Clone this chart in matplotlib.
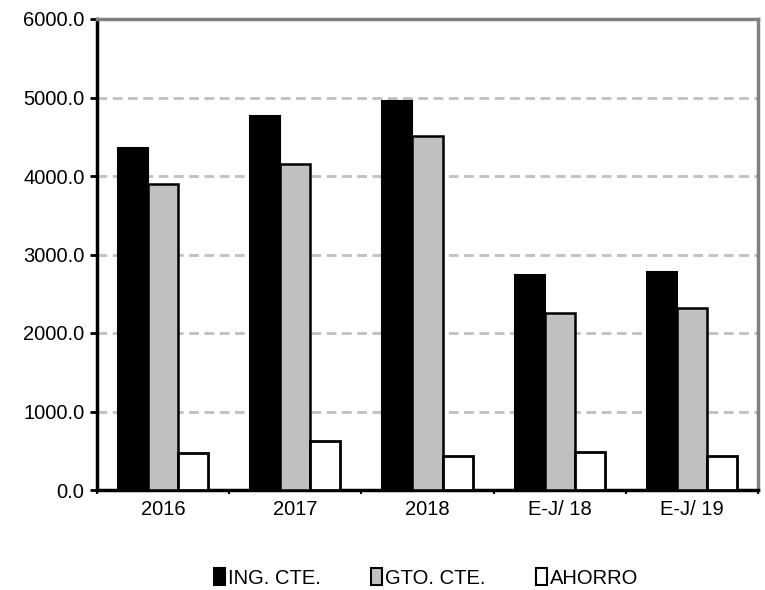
import numpy as np
import matplotlib.pyplot as plt
from matplotlib.patches import Patch

plt.rcParams['font.family'] = ['Liberation Sans', 'DejaVu Sans']

# Datos
categorias = ['2016', '2017', '2018', 'E-J/ 18', 'E-J/ 19']
ing_cte = [4360, 4760, 4960, 2740, 2780]
gto_cte = [3900, 4150, 4510, 2250, 2320]
ahorro = [465, 625, 435, 478, 435]
series = ['ING. CTE.', 'GTO. CTE.', 'AHORRO']
y_ticks = [0, 1000, 2000, 3000, 4000, 5000, 6000]

fig = plt.figure(figsize=(7.65, 5.9), dpi=100)
ax = fig.add_axes([97 / 765, 1 - 490 / 590, 661 / 765, 471 / 590])

x = np.arange(len(categorias))
w = 0.227

ax.bar(x - w, ing_cte, w, color='black', edgecolor='black', linewidth=1.5, zorder=3)
ax.bar(x, gto_cte, w, color='#c0c0c0', edgecolor='black', linewidth=1.8, zorder=3)
ax.bar(x + w, ahorro, w, color='white', edgecolor='black', linewidth=2, zorder=3)

# Eje Y
ax.set_ylim(0, 6000)
ax.set_yticks(y_ticks)
ax.set_yticklabels([f'{v:.1f}' for v in y_ticks], fontsize=14.5)
for v in y_ticks[1:-1]:
    ax.axhline(v, color='#c0c0c0', linewidth=2, dashes=(3.5, 2), zorder=1)

# Eje X
ax.set_xlim(-0.5, len(categorias) - 0.5)
ax.set_xticks(x)
ax.set_xticklabels(categorias, fontsize=14.5)
ax.tick_params(axis='x', length=0, pad=7)
ax.set_xticks(np.arange(len(categorias) + 1) - 0.5, minor=True)
ax.tick_params(axis='x', which='minor', length=3, width=1.5, direction='out')
ax.tick_params(axis='y', length=5, width=2, direction='out', pad=4)

for s in ['left', 'bottom']:
    ax.spines[s].set_color('black')
    ax.spines[s].set_linewidth(2.5)
for s in ['top', 'right']:
    ax.spines[s].set_color('#808080')
    ax.spines[s].set_linewidth(2.5)

legend_elements = [
    Patch(facecolor='black', edgecolor='black', linewidth=1.5, label=series[0]),
    Patch(facecolor='#c0c0c0', edgecolor='black', linewidth=1.5, label=series[1]),
    Patch(facecolor='white', edgecolor='black', linewidth=1.5, label=series[2]),
]
fig.legend(handles=legend_elements, loc='center', bbox_to_anchor=(0.557, 1 - 578 / 590),
           ncol=3, frameon=False, fontsize=14.5, handlelength=0.55, handleheight=0.9,
           handletextpad=0.15, columnspacing=2.5)

plt.savefig('out.png', dpi=100)
